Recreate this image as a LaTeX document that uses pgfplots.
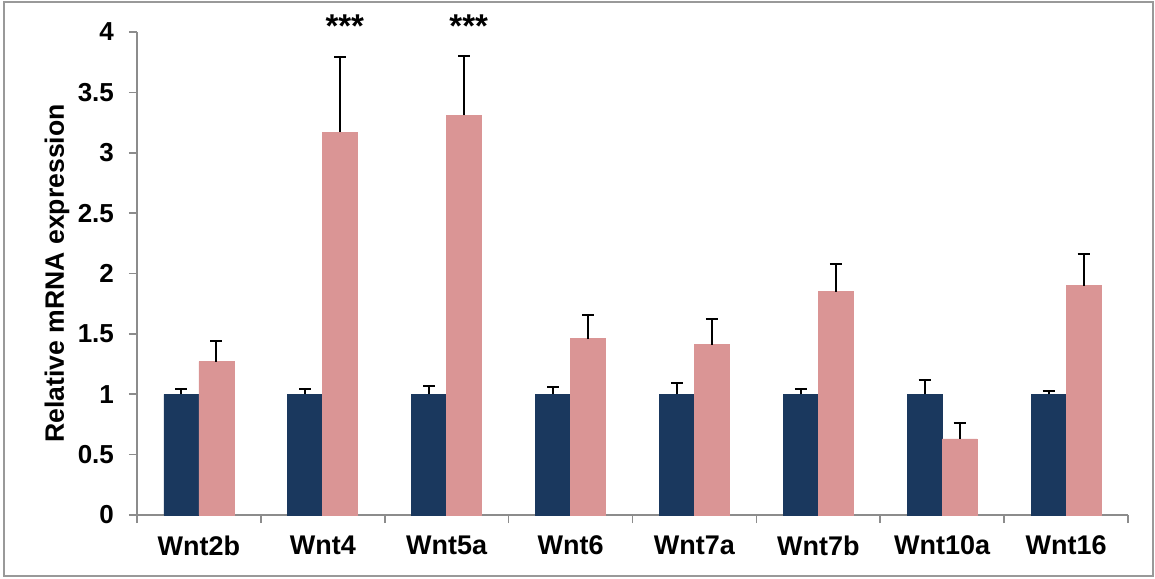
\documentclass[border=0pt]{standalone}
\usepackage{pgfplots}
\pgfplotsset{compat=1.18}
\usepackage{fontspec}
\setmainfont{Liberation Sans}
\definecolor{navy}{RGB}{26,56,94}
\definecolor{pinkbar}{RGB}{218,149,149}
\definecolor{axgray}{RGB}{140,140,140}
\begin{document}
\begin{tikzpicture}
\useasboundingbox (0,0) rectangle (577.5pt,289pt);
\draw[color=black!40, line width=0.8pt] (2pt,1pt) rectangle (576.5pt,288pt);
\begin{axis}[
  at={(68.5pt,31.5pt)}, anchor=south west,
  scale only axis, width=495.5pt, height=241.5pt,
  xmin=-0.5, xmax=7.5, ymin=0, ymax=4,
  axis lines*=left,
  axis line style={axgray, line width=0.8pt},
  clip=false,
  tick align=outside,
  major tick length=4pt, minor tick length=4pt,
  tick style={axgray, line width=0.8pt},
  ytick={0,0.5,1,1.5,2,2.5,3,3.5,4},
  yticklabels={0,0.5,1,1.5,2,2.5,3,3.5,4},
  xtick={0,1,2,3,4,5,6,7},
  xticklabels={Wnt2b,Wnt4,Wnt5a,Wnt6,Wnt7a,Wnt7b,Wnt10a,Wnt16},
  major x tick style={draw=none},
  minor xtick={-0.5,0.5,1.5,2.5,3.5,4.5,5.5,6.5,7.5},
  yticklabel style={font=\bfseries\fontsize{13}{15}\selectfont, xshift=-4pt},
  xticklabel style={font=\bfseries\fontsize{13.5}{16}\selectfont, yshift=-3pt},
  ylabel={Relative mRNA expression},
  ylabel style={font=\bfseries\fontsize{13.3}{15}\selectfont, at={(axis description cs:-0.0807,0.5)}, anchor=center},
  ybar=0pt, bar width=17.5pt,
  error bars/y dir=plus, error bars/y explicit,
  error bars/error bar style={black, line width=1pt},
  error bars/error mark options={rotate=90, black, mark size=3pt, line width=1pt},
]
\addplot[fill=navy, draw=navy] coordinates {
  (0,1) +- (0,0.04)
  (1,1) +- (0,0.04)
  (2,1) +- (0,0.07)
  (3,1) +- (0,0.06)
  (4,1) +- (0,0.09)
  (5,1) +- (0,0.04)
  (6,1) +- (0,0.12)
  (7,1) +- (0,0.03)
};
\addplot[fill=pinkbar, draw=pinkbar] coordinates {
  (0,1.27) +- (0,0.17)
  (1,3.17) +- (0,0.62)
  (2,3.31) +- (0,0.49)
  (3,1.46) +- (0,0.20)
  (4,1.41) +- (0,0.21)
  (5,1.85) +- (0,0.23)
  (6,0.63) +- (0,0.13)
  (7,1.90) +- (0,0.26)
};
\node[font=\bfseries\fontsize{16.5}{18}\selectfont] at (axis cs:1,4.05) [xshift=11pt] {***};
\node[font=\bfseries\fontsize{16.5}{18}\selectfont] at (axis cs:2,4.05) [xshift=11pt] {***};
\end{axis}
\end{tikzpicture}
\end{document}
